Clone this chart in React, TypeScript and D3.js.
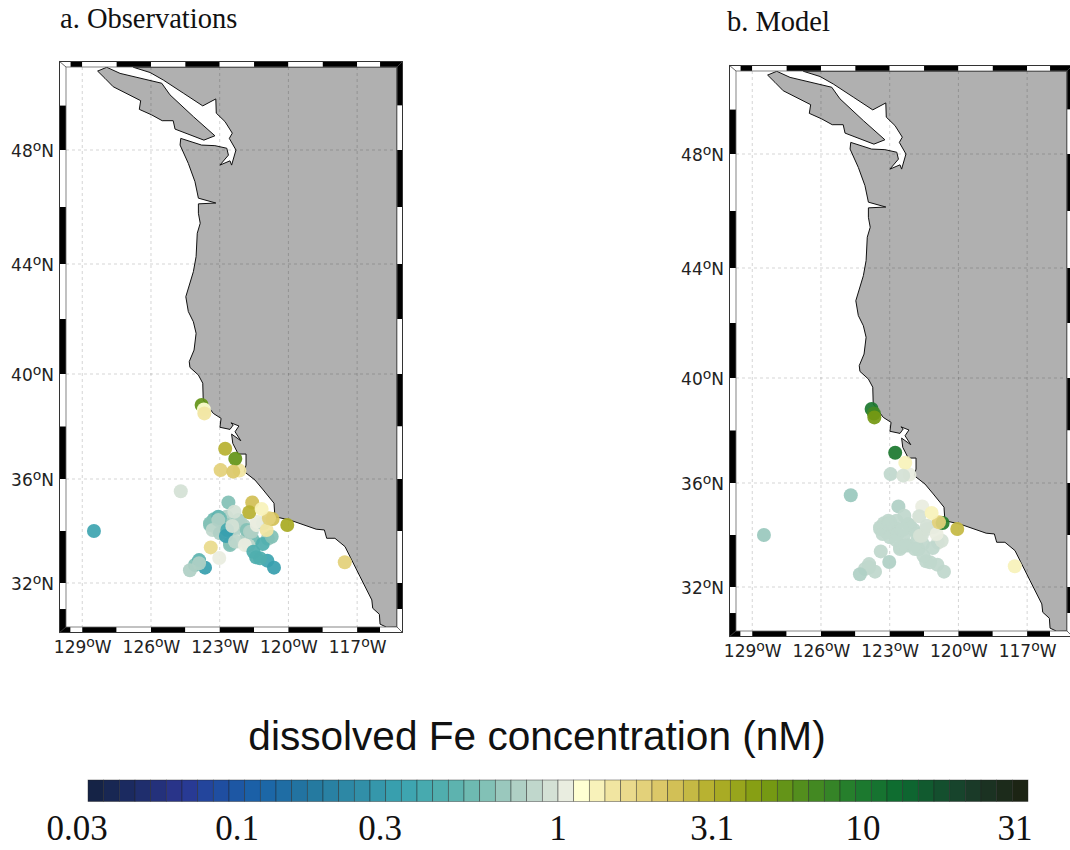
import React, { useEffect, useRef } from "react";
import * as d3 from "d3";

// graticule
const lonTicks = [-129, -126, -123, -120, -117];
const latTicks = [32, 36, 40, 44, 48];

// frame stripes, alternate colour between the breaks
const lonBreaks = [-129.51, -129, -127.5, -126, -124.5, -123, -121.5, -120, -118.5, -117, -116];
const latBreaks = [49.53, 48, 46, 44, 42, 40, 38, 36, 34, 32, 31];

// lat stops for the (not quite mercator) y axis
const latStops = [30.31, 32, 36, 40, 44, 48, 50.86];
const latPixels = [627, 583, 479, 374, 264, 150, 67];

// mainland coast, north to south [lon, lat]
const coast: [number, number][] = [
  [-126.77, 50.85], [-126.04, 50.67], [-125.46, 50.41], [-124.59, 49.96], [-123.74, 49.52],
  [-123.17, 49.76], [-123.15, 49.27], [-122.77, 48.98], [-122.45, 48.58], [-122.58, 48.4],
  [-122.29, 48.0], [-122.48, 47.47], [-122.55, 47.62], [-122.99, 47.47], [-122.62, 47.82],
  [-122.69, 48.06], [-123.21, 48.15], [-123.79, 48.17], [-124.7, 48.4], [-124.73, 48.17],
  [-124.37, 47.53], [-124.08, 46.89], [-123.93, 46.31], [-123.17, 46.14], [-123.93, 46.11],
  [-123.93, 45.78], [-123.85, 45.43], [-123.98, 45.08], [-124.03, 44.26], [-124.15, 43.72],
  [-124.48, 42.81], [-124.37, 42.27], [-124.15, 41.9], [-124.03, 41.48], [-124.12, 40.87],
  [-124.33, 40.45], [-124.3, 40.24], [-123.93, 39.96], [-123.74, 39.65], [-123.72, 39.01],
  [-123.28, 38.5], [-122.94, 38.31], [-122.99, 37.97], [-122.55, 37.89], [-122.41, 38.06],
  [-122.51, 38.14], [-122.16, 38.02], [-122.33, 37.8], [-122.08, 37.46], [-122.48, 37.71],
  [-122.43, 37.36], [-122.19, 36.95], [-121.85, 36.95], [-121.85, 36.53], [-121.93, 36.28],
  [-121.46, 35.96], [-121.1, 35.58], [-120.63, 35.07], [-120.59, 34.55], [-119.93, 34.42],
  [-118.79, 34.07], [-118.43, 34.04], [-118.33, 33.72], [-117.97, 33.72], [-117.53, 33.4],
  [-116.87, 32.24], [-116.36, 31.35], [-116.32, 31.03], [-116.03, 30.8], [-116.0, 30.42],
  [-115.71, 30.3], [-115.26, 30.31], [-115.26, 50.86],
];

// vancouver island
const island: [number, number][] = [
  [-128.33, 50.72], [-127.93, 50.85], [-127.35, 50.64], [-125.53, 50.3], [-125.17, 49.9],
  [-124.15, 49.15], [-123.21, 48.49], [-123.69, 48.34], [-124.95, 48.72], [-125.03, 49.01],
  [-125.51, 49.01], [-125.97, 49.21], [-126.51, 49.4], [-126.45, 49.7], [-127.65, 50.18],
  [-128.01, 50.47],
];

// sampling stations, same order everywhere, later ones sit on top
const stationLon = [
  -128.49, -124.7, -123.79, -123.69, -123.67, -122.76, -122.14, -122.32, -122.96, -122.41,
  -123.25, -123.2, -122.85, -122.7, -122.75, -123.1, -122.4, -122.2, -121.85, -121.95, -121.55, -121.75, -120.9,
  -123.42, -123.06, -123.42, -122.99, -122.19, -122.11, -123.31, -123.06, -122.99, -122.55,
  -122.55, -122.67, -122.73, -122.33, -121.9, -122.45, -122.62, -122.36, -123.39, -123.02,
  -123.64, -124.08, -123.9, -123.9, -124.3, -120.92, -120.63, -121.41, -121.24, -121.53,
  -121.12, -120.73, -121.82, -121.6, -121.68, -121.38, -121.1, -121.38, -120.95, -121.58,
  -120.69, -120.85, -121.71, -121.17, -120.05, -117.54,
];
const stationLat = [
  34.0, 35.53, 38.82, 38.65, 38.5, 37.15, 36.32, 36.77, 36.34, 36.28,
  34.45, 34.15, 34.3, 34.55, 34.25, 34.1, 33.95, 33.6, 33.7, 34.2, 33.65, 33.45, 33.7,
  34.3, 34.55, 34.23, 34.49, 34.42, 34.36, 34.04, 34.42, 33.91, 33.46,
  33.53, 34.04, 33.81, 33.59, 33.46, 34.19, 35.1, 34.74, 33.37, 32.96,
  32.59, 32.69, 32.88, 32.76, 32.49, 32.86, 32.59, 32.99, 32.95, 33.2,
  33.5, 33.78, 34.04, 33.97, 33.97, 34.23, 34.3, 34.36, 34.04, 35.1,
  34.46, 34.49, 34.72, 34.85, 34.23, 32.8,
];
const obsFe = [
  0.33, 0.95, 5, 1.2, 1.5, 2.9, 1.5, 5.2, 1.8, 2.1,
  0.5, 0.7, 0.6, 0.7, 0.65, 0.75, 0.75, 0.9, 0.7, 0.7, 0.5, 0.8, 0.62,
  0.55, 0.45, 0.55, 0.5, 0.65, 0.7, 0.8, 0.7, 0.7, 0.6,
  0.55, 0.35, 0.28, 0.8, 1.0, 0.9, 0.6, 0.95, 1.7, 0.98,
  0.3, 0.6, 0.45, 0.75, 0.7, 0.34, 0.3, 0.42, 0.42, 0.4,
  0.4, 0.6, 0.55, 0.7, 0.75, 1.0, 0.85, 1.0, 1.4, 2.2,
  2.4, 1.8, 2.9, 1.25, 3.1, 1.9,
];
const modelFe = [
  0.68, 0.68, 9, 6.5, 4.5, 9.5, 1.05, 1.25, 0.85, 0.95,
  0.82, 0.82, 0.82, 0.82, 0.82, 0.82, 0.85, 0.85, 0.85, 0.85, 0.82, 0.82, 0.95,
  0.82, 0.82, 0.82, 0.82, 0.82, 0.85, 0.82, 0.82, 0.82, 0.82,
  0.82, 0.82, 0.82, 0.82, 0.85, 0.82, 0.75, 0.82, 0.78, 0.75,
  0.78, 0.78, 0.78, 0.78, 0.75, 0.8, 0.78, 0.8, 0.8, 0.82,
  0.85, 0.95, 0.85, 0.9, 0.9, 0.95, 0.95, 0.95, 0.98, 1.0,
  8, 1.9, 0.95, 1.25, 2.5, 1.25,
];

// colour bar
const cellCount = 60;
const cmapCells = [0, 3, 6, 8, 11, 14, 17, 20, 23, 25, 27, 29, 30.5, 31.5, 34, 37, 40, 43, 46, 49, 52, 55, 57, 59.5];
const cmapColors = [
  "#14213f", "#1c2c66", "#2b3590", "#204aa0", "#1a64a8", "#23769f", "#2f8ba6", "#3aa3b0",
  "#54b0ae", "#76bdb2", "#a6ccc1", "#c9dbd0", "#e9ede0", "#ffffd2", "#eedf95", "#d8c35f",
  "#b2ae28", "#7e9c10", "#4a8b1f", "#1f7c2f", "#0c6a30", "#16492e", "#1b3526", "#1c2414",
];
const barLabels = ["0.03", "0.1", "0.3", "1", "3.1", "10", "31"];
const barLabelX = [77, 237, 380, 558, 712, 863, 1015];

const App = () => {
  const svgRef = useRef<SVGSVGElement>(null);

  useEffect(() => {
    const svg = d3.select(svgRef.current);
    svg.selectAll("*").remove();

    const xScale = d3.scaleLinear().domain([-129.71, -115.26]).range([66, 397]);
    const yScale = d3.scaleLinear().domain(latStops).range(latPixels);
    const cellScale = d3.scaleLog().domain([0.03, 31]).range([0, cellCount]);
    const cmap = d3.scaleLinear<string>().domain(cmapCells).range(cmapColors).interpolate(d3.interpolateRgb);
    // colours come in steps like the bar
    const feColor = (v: number) => cmap(Math.floor(cellScale(v)) + 0.5);

    const line = d3.line<[number, number]>()
      .x(d => xScale(d[0]))
      .y(d => yScale(d[1]));

    svg.append("defs").append("clipPath").attr("id", "map-clip")
      .append("rect").attr("x", 66).attr("y", 67).attr("width", 331).attr("height", 560);

    const drawPanel = (title: string, titleX: number, titleY: number, dx: number, dy: number, values: number[]) => {
      svg.append("text")
        .attr("x", titleX).attr("y", titleY)
        .attr("font-family", "Liberation Serif").attr("font-size", 28.5).attr("fill", "#111")
        .text(title);

      const g = svg.append("g").attr("transform", `translate(${dx},${dy})`);
      const map = g.append("g").attr("clip-path", "url(#map-clip)");

      map.append("rect").attr("x", 66).attr("y", 67).attr("width", 331).attr("height", 560).attr("fill", "#fff");

      map.append("path").attr("d", line(coast) + "Z")
        .attr("fill", "#b0b0b0").attr("stroke", "#111").attr("stroke-width", 1);
      map.append("path").attr("d", line(island) + "Z")
        .attr("fill", "#b0b0b0").attr("stroke", "#111").attr("stroke-width", 1);

      // grid goes over the land
      map.selectAll(".lon-grid").data(lonTicks).enter().append("line")
        .attr("x1", d => xScale(d)).attr("x2", d => xScale(d))
        .attr("y1", 67).attr("y2", 627)
        .attr("stroke", "#000").attr("stroke-opacity", 0.17).attr("stroke-dasharray", "3,3");
      map.selectAll(".lat-grid").data(latTicks).enter().append("line")
        .attr("x1", 66).attr("x2", 397)
        .attr("y1", d => yScale(d)).attr("y2", d => yScale(d))
        .attr("stroke", "#000").attr("stroke-opacity", 0.17).attr("stroke-dasharray", "3,3");

      map.selectAll("circle").data(values).enter().append("circle")
        .attr("cx", (_, i) => xScale(stationLon[i]))
        .attr("cy", (_, i) => yScale(stationLat[i]))
        .attr("r", 7)
        .attr("fill", d => feColor(d))
        .attr("fill-opacity", 0.93);

      // striped frame
      const xEdges = [59, ...lonBreaks.map(d => xScale(d)), 403];
      const yEdges = [61, ...latBreaks.map(d => yScale(d)), 633];
      d3.pairs(xEdges).forEach(([a, b], i) => {
        g.append("rect").attr("x", a).attr("y", 61).attr("width", b - a).attr("height", 6)
          .attr("fill", i % 2 ? "#000" : "#fff");
        g.append("rect").attr("x", a).attr("y", 627).attr("width", b - a).attr("height", 6)
          .attr("fill", i % 2 ? "#fff" : "#000");
      });
      d3.pairs(yEdges).forEach(([a, b], i) => {
        g.append("rect").attr("x", 59).attr("y", a).attr("width", 7).attr("height", b - a)
          .attr("fill", i % 2 ? "#000" : "#fff");
        g.append("rect").attr("x", 397).attr("y", a).attr("width", 6).attr("height", b - a)
          .attr("fill", i % 2 ? "#fff" : "#000");
      });
      g.append("rect").attr("x", 59.5).attr("y", 61.5).attr("width", 343).attr("height", 571)
        .attr("fill", "none").attr("stroke", "#333").attr("stroke-width", 1);
      g.append("rect").attr("x", 66).attr("y", 67).attr("width", 331).attr("height", 560)
        .attr("fill", "none").attr("stroke", "#666").attr("stroke-width", 0.8);
      // little mitres in the corners
      [[59, 61, 66, 67], [403, 61, 397, 67], [59, 633, 66, 627], [403, 633, 397, 627]].forEach(c => {
        g.append("line").attr("x1", c[0]).attr("y1", c[1]).attr("x2", c[2]).attr("y2", c[3])
          .attr("stroke", "#444").attr("stroke-width", 0.8);
      });

      // degree labels, the small o is raised
      const degLabel = (sel: any, suffix: string) => {
        sel.select(".domain").remove();
        sel.selectAll(".tick text").each(function (this: SVGTextElement, d: number) {
          const t = d3.select(this);
          t.text(null).attr("font-family", "DejaVu Sans").attr("font-size", 17).attr("fill", "#222");
          t.append("tspan").text(Math.abs(d));
          t.append("tspan").attr("dy", -6).attr("font-size", 14).text("o");
          t.append("tspan").attr("dy", 6).text(suffix);
        });
      };
      g.append("g").attr("transform", "translate(0,641)")
        .call(d3.axisBottom(xScale).tickValues(lonTicks).tickSize(0).tickPadding(0))
        .call(degLabel, "W");
      g.append("g").attr("transform", "translate(54,1)")
        .call(d3.axisLeft(yScale).tickValues(latTicks).tickSize(0).tickPadding(0))
        .call(degLabel, "N");
    };

    drawPanel("a. Observations", 60, 28, 0, 0, obsFe);
    drawPanel("b. Model", 727, 31, 670, 4, modelFe);

    svg.append("text")
      .attr("x", 537).attr("y", 750).attr("text-anchor", "middle")
      .attr("font-family", "Liberation Sans").attr("font-size", 40.6).attr("fill", "#111")
      .text("dissolved Fe concentration (nM)");

    // colour bar, one rect per step
    const barX = d3.scaleLinear().domain([0, cellCount]).range([88, 1028]);
    svg.selectAll(".cell").data(d3.range(cellCount)).enter().append("rect")
      .attr("class", "cell")
      .attr("x", d => barX(d)).attr("y", 780)
      .attr("width", barX(1) - barX(0)).attr("height", 21.5)
      .attr("fill", d => cmap(d + 0.5))
      .attr("stroke", "#222").attr("stroke-opacity", 0.6).attr("stroke-width", 0.7);

    svg.selectAll(".bar-label").data(barLabels).enter().append("text")
      .attr("class", "bar-label")
      .attr("x", (_, i) => barLabelX[i]).attr("y", 840).attr("text-anchor", "middle")
      .attr("font-family", "Liberation Serif").attr("font-size", 35).attr("fill", "#111")
      .text(d => d);
  }, []);

  return <svg ref={svgRef} width={1070} height={850} style={{ position: "absolute", left: 0, top: 0, background: "#fff" }} />;
};

export default App;
